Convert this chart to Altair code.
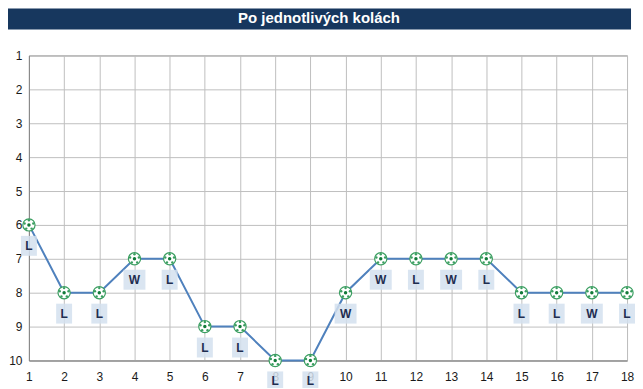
import altair as alt
import pandas as pd

rounds = list(range(1, 19))
positions = [6, 8, 8, 7, 7, 9, 9, 10, 10, 8, 7, 7, 7, 7, 8, 8, 8, 8]
results = ["L", "L", "L", "W", "L", "L", "L", "L", "L", "W", "W", "L", "W", "L", "L", "L", "W", "L"]
title_text = "Po jednotlivých kolách"
y_ticks = list(range(1, 11))

df = pd.DataFrame({"kolo": rounds, "poradi": positions, "vysledek": results})
title_df = pd.DataFrame({"t": [title_text]})

FONT = "Liberation Sans"
LINE = "#4F81BD"
GREEN = "#3A9E60"
DARKGREEN = "#137A3A"

x = alt.X("kolo:Q",
          scale=alt.Scale(domain=[1, 18], nice=False, zero=False),
          axis=alt.Axis(values=rounds, tickCount=18, format="d", title=None,
                        ticks=False, labelOverlap=False,
                        labelPadding=11, labelFontSize=12, labelFont=FONT,
                        labelColor="#1a1a1a", gridColor="#BFBFBF",
                        domainColor="#868686", labelFlush=False))
y = alt.Y("poradi:Q",
          scale=alt.Scale(domain=[1, 10], reverse=True, nice=False, zero=False),
          axis=alt.Axis(values=y_ticks, tickCount=10, format="d", title=None,
                        ticks=False, labelOverlap=False, labelPadding=7,
                        labelFontSize=12, labelFont=FONT, labelColor="#1a1a1a",
                        gridColor="#BFBFBF", domainColor="#868686",
                        labelFlush=False))

base = alt.Chart(df)

line = base.mark_line(color=LINE, strokeWidth=2).encode(x=x, y=y)

balls = base.mark_point(shape="circle", filled=True, fill="white",
                        stroke=GREEN, strokeWidth=1.2, size=150,
                        opacity=1).encode(x="kolo:Q", y="poradi:Q")
center = base.mark_point(shape="circle", filled=True, color=DARKGREEN,
                         size=12, opacity=1).encode(x="kolo:Q", y="poradi:Q")
dots = []
for dx, dy in [(0, -4.6), (4.4, -1.4), (2.7, 3.7), (-2.7, 3.7), (-4.4, -1.4)]:
    dots.append(base.mark_point(shape="circle", filled=True, color=GREEN,
                                size=6, opacity=1, xOffset=dx, yOffset=dy)
                .encode(x="kolo:Q", y="poradi:Q"))

box_L = base.transform_filter(alt.datum.vysledek == "L").mark_point(
    shape="M-0.8,-1H0.8V1H-0.8Z", filled=True, color="#D3E0EF", opacity=0.85,
    size=400, strokeWidth=0, yOffset=21).encode(x="kolo:Q", y="poradi:Q")
box_W = base.transform_filter(alt.datum.vysledek == "W").mark_point(
    shape="M-1.1,-1H1.1V1H-1.1Z", filled=True, color="#D3E0EF", opacity=0.85,
    size=400, strokeWidth=0, yOffset=21).encode(x="kolo:Q", y="poradi:Q")
labels = base.mark_text(font=FONT, fontSize=12, fontWeight="bold",
                        color="#1F2D50", dy=21, baseline="middle").encode(
    x="kolo:Q", y="poradi:Q", text="vysledek:N")

title_bar = alt.Chart(title_df).mark_rect(color="#17375E").encode(
    x=alt.value(-21), x2=alt.value(604), y=alt.value(-47), y2=alt.value(-26))
title = alt.Chart(title_df).mark_text(font=FONT, fontSize=15, fontWeight="bold",
                                      color="white", baseline="middle",
                                      align="center").encode(
    x=alt.value(291), y=alt.value(-38), text="t:N")

chart = alt.layer(title_bar, title, line, balls, center, *dots,
                  box_L, box_W, labels).properties(
    width=600, height=306,
    padding={"left": 21, "top": 47, "right": 8, "bottom": 27},
    autosize=alt.AutoSizeParams(type="none"),
    background="white",
).configure_view(stroke="#868686", strokeWidth=1)

chart.save("out.html", embed_options={"renderer": "svg", "actions": False})
